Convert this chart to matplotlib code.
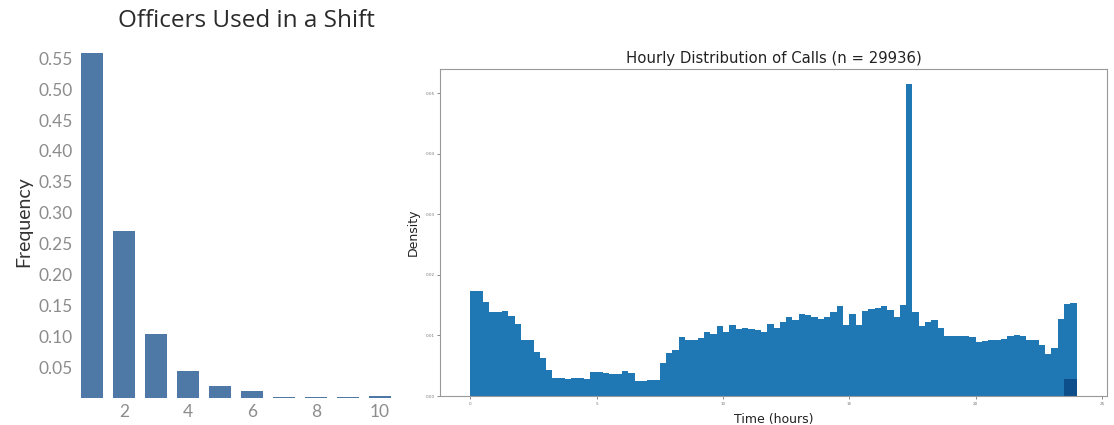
import numpy as np
import matplotlib.pyplot as plt

# Officers per shift (relative frequency)
officers = [1, 2, 3, 4, 5, 6, 7, 8, 9, 10]
officer_freq = [0.559, 0.270, 0.103, 0.044, 0.020, 0.011, 0.001, 0.001, 0.001, 0.003]

# Hourly call density, 15 minute bins from 0 to 24 h
bin_edges = np.arange(0, 24.25, 0.25)
call_density = [
    0.0174, 0.0174, 0.0156, 0.0139, 0.0139, 0.0141, 0.0132, 0.0119,
    0.0093, 0.0093, 0.0072, 0.0063, 0.0043, 0.0030, 0.0029, 0.0028,
    0.0029, 0.0029, 0.0028, 0.0040, 0.0039, 0.0038, 0.0037, 0.0037,
    0.0041, 0.0038, 0.0024, 0.0025, 0.0026, 0.0027, 0.0054, 0.0071,
    0.0076, 0.0098, 0.0093, 0.0093, 0.0095, 0.0105, 0.0103, 0.0116,
    0.0106, 0.0117, 0.0110, 0.0113, 0.0111, 0.0109, 0.0105, 0.0119,
    0.0113, 0.0123, 0.0131, 0.0125, 0.0136, 0.0133, 0.0131, 0.0127,
    0.0130, 0.0139, 0.0148, 0.0117, 0.0136, 0.0117, 0.0141, 0.0143,
    0.0145, 0.0148, 0.0142, 0.0131, 0.0150, 0.0515, 0.0138, 0.0116,
    0.0123, 0.0125, 0.0113, 0.0099, 0.0099, 0.0099, 0.0099, 0.0097,
    0.0090, 0.0091, 0.0093, 0.0093, 0.0094, 0.0099, 0.0100, 0.0099,
    0.0093, 0.0093, 0.0084, 0.0069, 0.0079, 0.0127, 0.0152, 0.0154,
]
# small overlay in the last half hour
late_edges = [23.5, 23.75, 24.0]
late_density = [0.0028, 0.0028]
n_calls = 29936

fig = plt.figure(figsize=(11.14, 4.25), dpi=100)

# Left: officers used in a shift
ax1 = fig.add_axes([0.070, 0.0635, 0.2819, 0.8283])
ax1.bar(officers, officer_freq, width=0.7, color='#4e79a7')
ax1.set_xlim(0.5625, 10.375)
ax1.set_ylim(0, 0.57)
ax1.set_yticks(np.arange(0.05, 0.56, 0.05))
ax1.set_yticklabels(['{:.2f}'.format(v) for v in np.arange(0.05, 0.56, 0.05)])
ax1.set_xticks([2, 4, 6, 8, 10])
for s in ax1.spines.values():
    s.set_visible(False)
ax1.tick_params(length=0, labelsize=12.5, colors='#8c8c8c', pad=4)
for lab in ax1.get_xticklabels() + ax1.get_yticklabels():
    lab.set_family('Lato')
ax1.set_ylabel('Frequency', fontsize=14, color='#333333', family='Lato',
               labelpad=4)
fig.text(0.221, 0.950, 'Officers Used in a Shift', ha='center', va='center',
         fontsize=17.5, color='#2b2b2b', family='Open Sans')

# Right: hourly histogram
ax2 = fig.add_axes([0.395, 0.0682, 0.5987, 0.7694])
ax2.stairs(call_density, bin_edges, fill=True, color='#1f77b4')
ax2.stairs(late_density, late_edges, fill=True, color='#0d4f8b')
ax2.set_xlim(-1.2, 25.2)
ax2.set_ylim(0, 0.054)
ax2.set_xticks([0, 5, 10, 15, 20, 25])
ax2.set_yticks([0.0, 0.01, 0.02, 0.03, 0.04, 0.05])
ax2.set_yticklabels(['0.00', '0.01', '0.02', '0.03', '0.04', '0.05'])
ax2.tick_params(length=2, width=0.6, labelsize=3, colors='#777777', pad=2)
for s in ax2.spines.values():
    s.set_color('#999999')
    s.set_linewidth(0.8)
ax2.set_title('Hourly Distribution of Calls (n = {})'.format(n_calls),
              fontsize=10.7, color='#222222', pad=4)
ax2.set_xlabel('Time (hours)', fontsize=9, color='#222222', labelpad=5)
ax2.set_ylabel('Density', fontsize=9, color='#222222', labelpad=4)

fig.savefig('out.png', dpi=100)
